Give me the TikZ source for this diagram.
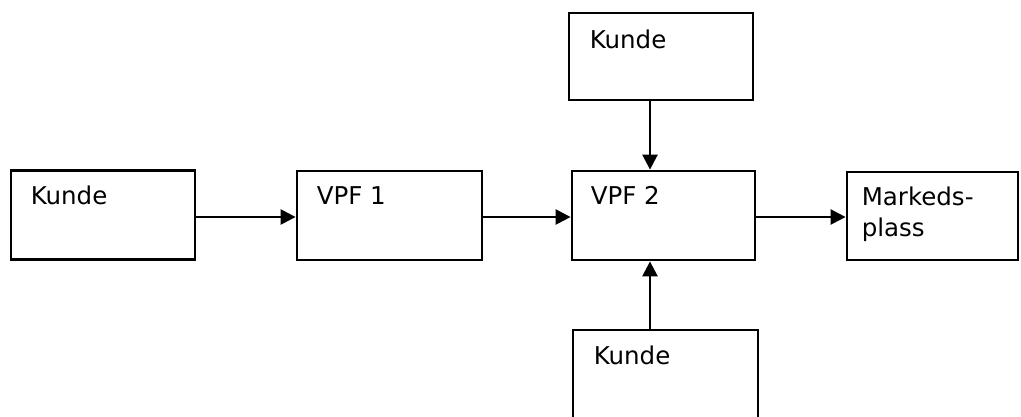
\documentclass[tikz,border=0pt]{standalone}
\usepackage{fontspec}
\setmainfont{DejaVu Sans}
\usetikzlibrary{arrows.meta}
\begin{document}
\begin{tikzpicture}[x=1pt,y=1pt,
  boxstyle/.style={draw,line width=2.8pt,inner sep=0pt,minimum width=#1,minimum height=89pt},
  lbl/.style={anchor=base west,inner sep=0pt,font=\fontsize{24.5}{31}\selectfont,align=left},
  arr/.style={line width=2.5pt,-{Triangle[length=15pt,width=15pt]}}]
\useasboundingbox (0,0) rectangle (1021,416);
\begin{scope}
\clip (0,0) rectangle (1021,416);
\node[boxstyle=184pt] (k1) at (103,201) {};
\node[boxstyle=185pt] (v1) at (389.5,200.5) {};
\node[boxstyle=183pt] (v2) at (663.5,200.5) {};
\node[boxstyle=171pt,minimum height=88pt] (m) at (932.5,200) {};
\node[boxstyle=184pt,minimum height=87pt] (kt) at (661,359.5) {};
\node[boxstyle=185pt,minimum height=92pt] (kb) at (665.5,40) {};
\end{scope}
\node[lbl] (tk1) at ([xshift=21pt,yshift=-35pt]k1.north west) {Kunde};
\node[lbl] (tv1) at ([xshift=21pt,yshift=-35pt]v1.north west) {VPF 1};
\node[lbl] (tv2) at ([xshift=20pt,yshift=-35pt]v2.north west) {VPF 2};
\node[lbl] (tm) at ([xshift=16pt,yshift=-66pt]m.north west) {Markeds-\\plass};
\node[lbl] (tkt) at ([xshift=22pt,yshift=-37pt]kt.north west) {Kunde};
\node[lbl] (tkb) at ([xshift=22pt,yshift=-36pt]kb.north west) {Kunde};
\coordinate (vx) at (650,0);
\coordinate (hy) at (0,199);
\draw[arr] (k1.east |- hy) -- (v1.west |- hy);
\draw[arr] (v1.east |- hy) -- (v2.west |- hy);
\draw[arr] (v2.east |- hy) -- (m.west |- hy);
\draw[arr] (kt.south -| vx) -- (v2.north -| vx);
\draw[arr] (kb.north -| vx) -- (v2.south -| vx);
\end{tikzpicture}
\end{document}
